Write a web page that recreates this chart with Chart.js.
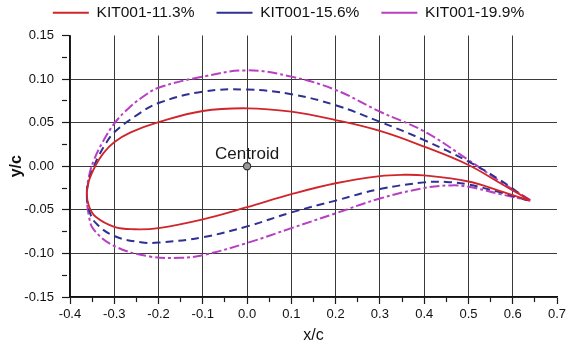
<!DOCTYPE html>
<html>
<head>
<meta charset="utf-8">
<script src="https://cdn.jsdelivr.net/npm/chart.js@4/dist/chart.umd.min.js"></script>
<style>
  html, body { margin: 0; padding: 0; background: #fff; }
  canvas { display: block; }
</style>
</head>
<body>
<canvas id="c" width="571" height="345"></canvas>
<script>
// Airfoil profiles: upper surface from trailing edge to leading edge,
// lower surface from leading edge back to trailing edge.
const kit113Upper = [[0.638,-0.0387],[0.572,-0.0195],[0.5,0.0015],[0.4,0.0225],[0.3,0.0405],[0.2,0.053],[0.1,0.0626],[0.0,0.0665],[-0.1,0.0634],[-0.2,0.0505],[-0.263,0.0388],[-0.301,0.0273],[-0.324,0.0153],[-0.342,0.001],[-0.3567,-0.0157],[-0.362,-0.031]];
const kit113Lower = [[-0.362,-0.031],[-0.357,-0.046],[-0.342,-0.058],[-0.3,-0.0695],[-0.255,-0.0723],[-0.2,-0.071],[-0.1,-0.061],[0.0,-0.047],[0.1,-0.032],[0.2,-0.0195],[0.3,-0.0113],[0.35,-0.0098],[0.4,-0.0105],[0.5,-0.0175],[0.572,-0.0285],[0.638,-0.0395]];

const kit156Upper = [[0.636,-0.0387],[0.565,-0.0138],[0.5,0.0053],[0.4,0.030],[0.3,0.051],[0.2,0.070],[0.1,0.0826],[0.0,0.088],[-0.1,0.0856],[-0.2,0.0725],[-0.248,0.059],[-0.3,0.039],[-0.318,0.027],[-0.334,0.013],[-0.346,0.0],[-0.356,-0.014],[-0.362,-0.031]];
const kit156Lower = [[-0.362,-0.031],[-0.357,-0.050],[-0.342,-0.065],[-0.3,-0.080],[-0.24,-0.0872],[-0.2,-0.0876],[-0.1,-0.0814],[0.0,-0.069],[0.1,-0.053],[0.2,-0.0394],[0.3,-0.0262],[0.4,-0.0185],[0.45,-0.018],[0.5,-0.021],[0.572,-0.030],[0.636,-0.0395]];

const kit199Upper = [[0.64,-0.0387],[0.572,-0.0176],[0.5,0.0072],[0.4,0.040],[0.3,0.0626],[0.2,0.0875],[0.1,0.1028],[0.0,0.110],[-0.1,0.1028],[-0.2,0.090],[-0.24,0.078],[-0.27,0.0655],[-0.3,0.049],[-0.327,0.027],[-0.346,0.007],[-0.357,-0.011],[-0.362,-0.031]];
const kit199Lower = [[-0.362,-0.031],[-0.357,-0.058],[-0.346,-0.073],[-0.3,-0.0915],[-0.22,-0.1035],[-0.15,-0.105],[-0.1,-0.102],[0.0,-0.088],[0.1,-0.071],[0.2,-0.054],[0.3,-0.037],[0.4,-0.025],[0.46,-0.022],[0.5,-0.0235],[0.572,-0.032],[0.64,-0.0395]];

const seriesNames = ['KIT001-11.3%', 'KIT001-15.6%', 'KIT001-19.9%'];
const centroid = [0.0, 0.0];
const centroidLabel = 'Centroid';

const xTickValues = [-0.4,-0.3,-0.2,-0.1,0.0,0.1,0.2,0.3,0.4,0.5,0.6,0.7];
const xTickLabels = ['-0.4','-0.3','-0.2','-0.1','0.0','0.1','0.2','0.3','0.4','0.5','0.6','0.7'];
const yTickValues = [-0.15,-0.10,-0.05,0.00,0.05,0.10,0.15];
const yTickLabels = ['-0.15','-0.10','-0.05','0.00','0.05','0.10','0.15'];

const FONT = '"Liberation Sans", Arial, Helvetica, sans-serif';

function loop(upper, lower) {
  return upper.concat(lower.slice(1)).map(p => ({x: p[0], y: p[1]}));
}
function majorIndex(values, v) {
  return values.findIndex(t => Math.abs(t - v) < 1e-6);
}

// Adds the "Centroid" caption above the centroid marker.
const centroidText = {
  id: 'centroidText',
  afterDatasetsDraw(chart) {
    const xs = chart.scales.x, ys = chart.scales.y;
    const px = xs.getPixelForValue(centroid[0]);
    const py = ys.getPixelForValue(centroid[1]);
    const ctx = chart.ctx;
    ctx.save();
    ctx.font = '17px ' + FONT;
    ctx.fillStyle = '#1a1a1a';
    ctx.textAlign = 'center';
    ctx.textBaseline = 'alphabetic';
    ctx.fillText(centroidLabel, px, py - 7);
    ctx.restore();
  }
};

// Fixed legend band height so the plot starts below it.
const legendBand = {
  id: 'legendBand',
  afterInit(chart) {
    const lg = chart.legend;
    if (!lg) return;
    const fit = lg.fit;
    lg.fit = function () { fit.call(this); this.height = 52.5; };
  }
};

const lineBase = { showLine: true, pointRadius: 0, pointHoverRadius: 0, fill: false, tension: 0.4 };

new Chart(document.getElementById('c'), {
  type: 'scatter',
  data: {
    datasets: [
      Object.assign({}, lineBase, {
        label: seriesNames[0], data: loop(kit113Upper, kit113Lower),
        borderColor: '#d0262b', backgroundColor: '#d0262b', borderWidth: 1.8
      }),
      Object.assign({}, lineBase, {
        label: seriesNames[1], data: loop(kit156Upper, kit156Lower),
        borderColor: '#2e3192', backgroundColor: '#2e3192', borderWidth: 2, borderDash: [8, 5]
      }),
      Object.assign({}, lineBase, {
        label: seriesNames[2], data: loop(kit199Upper, kit199Lower),
        borderColor: '#b83fc4', backgroundColor: '#b83fc4', borderWidth: 2, borderDash: [10, 3, 3, 3]
      }),
      {
        label: centroidLabel, data: [{x: centroid[0], y: centroid[1]}],
        showLine: false, pointRadius: 3.6, pointHoverRadius: 3.6,
        backgroundColor: '#9a9a9a', borderColor: '#333', borderWidth: 1.2
      }
    ]
  },
  options: {
    responsive: false,
    animation: false,
    devicePixelRatio: 1,
    layout: { padding: { top: -17, left: 20, right: 14, bottom: 0 } },
    plugins: {
      tooltip: { enabled: false },
      legend: {
        position: 'top',
        labels: {
          usePointStyle: true,
          pointStyle: 'line',
          pointStyleWidth: 36,
          padding: 22,
          color: '#111',
          font: { family: FONT, size: 15.5 },
          filter: item => item.datasetIndex < 3
        }
      }
    },
    scales: {
      x: {
        type: 'linear',
        min: -0.4, max: 0.7,
        afterFit: s => { s.height = 48; },
        ticks: {
          stepSize: 0.05, autoSkip: false, maxRotation: 0, padding: 3,
          color: '#111', font: { family: FONT, size: 13 },
          callback: v => { const i = majorIndex(xTickValues, v); return i >= 0 ? xTickLabels[i] : ''; }
        },
        grid: {
          drawTicks: true, tickLength: 7,
          color: c => {
            const v = c.tick ? c.tick.value : NaN;
            const i = majorIndex(xTickValues, v);
            return (i < 0 || Math.abs(v - 0.7) < 1e-6) ? 'rgba(0,0,0,0)' : '#3a3a3a';
          },
          lineWidth: 1,
          tickColor: '#1a1a1a', tickWidth: 1.2,
          tickBorderDash: c => majorIndex(xTickValues, c.tick ? c.tick.value : NaN) >= 0 ? [] : [4.5, 20]
        },
        border: { display: true, color: '#111', width: 1.6 },
        title: { display: true, text: 'x/c', color: '#111', font: { family: FONT, size: 16 }, padding: { top: 0, bottom: 0 } }
      },
      y: {
        type: 'linear',
        min: -0.15, max: 0.15,
        afterFit: s => { s.width = 50; },
        ticks: {
          stepSize: 0.025, autoSkip: false, padding: 8,
          color: '#111', font: { family: FONT, size: 13 },
          callback: v => { const i = majorIndex(yTickValues, v); return i >= 0 ? yTickLabels[i] : ''; }
        },
        grid: {
          drawTicks: true, tickLength: 8,
          color: c => {
            const v = c.tick ? c.tick.value : NaN;
            const i = majorIndex(yTickValues, v);
            return (i < 0 || Math.abs(v - 0.15) < 1e-6) ? 'rgba(0,0,0,0)' : '#3a3a3a';
          },
          lineWidth: 1,
          tickColor: '#1a1a1a', tickWidth: 1.2,
          tickBorderDash: c => majorIndex(yTickValues, c.tick ? c.tick.value : NaN) >= 0 ? [] : [5, 20]
        },
        border: { display: true, color: '#111', width: 1.6 },
        title: { display: true, text: 'y/c', color: '#111', font: { family: FONT, size: 16, weight: 'bold' }, padding: { top: -12.6, bottom: 0 } }
      }
    }
  },
  plugins: [centroidText, legendBand]
});
</script>
</body>
</html>
